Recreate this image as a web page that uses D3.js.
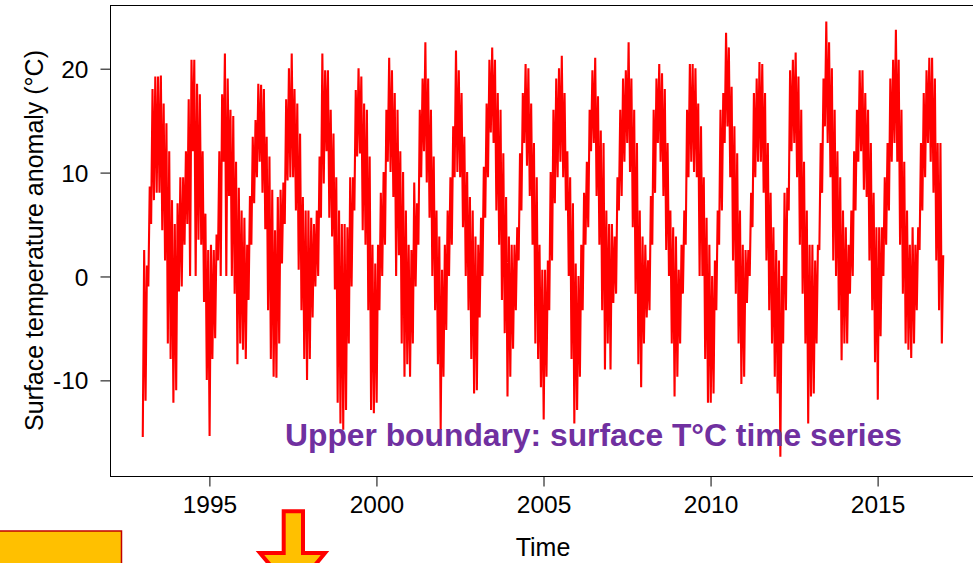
<!DOCTYPE html>
<html>
<head>
<meta charset="utf-8">
<script src="https://cdn.jsdelivr.net/npm/d3@7"></script>
<style>
  html, body { margin: 0; padding: 0; background: #fff; }
  svg { display: block; }
  text { font-family: "Liberation Sans", Arial, sans-serif; }
</style>
</head>
<body>
<svg id="chart" width="973" height="563"></svg>
<script>
// ---- data (monthly high / low of the daily series) ----
const years = [1993, 1994, 1995, 1996, 1997, 1998, 1999, 2000, 2001, 2002, 2003, 2004,
               2005, 2006, 2007, 2008, 2009, 2010, 2011, 2012, 2013, 2014, 2015, 2016];

const monthlyHigh = [
  [2.5, 1, 8.6, 18, 19.2, 19.2, 19.3, 16.6, 14.7, 12, 7.3, 5],
  [7, 9.5, 9.5, 12, 17, 20.8, 20.8, 18.5, 17.5, 12, 6, 2.5],
  [3, 2.5, 4, 12, 17.5, 21.4, 19, 16, 15.4, 11, 8.5, 6.3],
  [5.6, 3, 7.7, 13.4, 15, 18.5, 18.4, 18, 13.4, 11.5, 8.3, 4.4],
  [7.6, 8.3, 9, 17, 20, 21.4, 18, 16.6, 13.7, 7.6, 6.3, 6.3],
  [5.6, 5, 6.3, 11.5, 21.4, 19.8, 19.8, 16, 13.7, 9.5, 6.3, 5],
  [5, 4.7, 9.5, 9.5, 17.9, 20, 19.2, 16.6, 16, 11.5, 3, 1.2],
  [3, 8, 10, 16, 21, 19.8, 17.6, 16, 12, 10, 6.3, 3],
  [2.5, 9, 7, 16, 19, 22.5, 19, 16, 11.5, 6.3, 3.8, 0.6],
  [3, 6.3, 9.5, 14.4, 21.7, 19.8, 17.6, 13.4, 10, 7.6, 6.3, 3.8],
  [3, 5.6, 10.5, 16.6, 20.8, 22, 20.8, 17.6, 16, 11.8, 7.6, 3.8],
  [3, 3, 4.7, 11.8, 17.6, 20.4, 20, 16.6, 12.8, 9.5, 3, 0.6],
  [0.6, 1.5, 10, 16, 19, 20, 21.2, 17.6, 12, 9.5, 7, 1.2],
  [0, 3, 8, 11, 16, 19.8, 21, 17.3, 14, 12.8, 6.3, 5],
  [5, 3.8, 9.5, 16, 19, 19.8, 22.5, 19, 16, 12.8, 6.3, 3.8],
  [3, 1.5, 7.7, 16, 19, 20.4, 19.5, 18, 12.8, 6.3, 4.7, 3.8],
  [0.6, 3, 6.3, 16, 20.4, 20.4, 20, 16.6, 14.4, 9.5, 5.6, 3],
  [0, 1.5, 6.3, 16, 17.6, 23.4, 22, 18.2, 14.4, 11.8, 6.3, 3],
  [2.5, 2.5, 8, 17.6, 19, 20.6, 20.4, 17.6, 12.8, 8, 4.7, 2.5],
  [1.5, 0, 8, 8.5, 19.8, 20.8, 21.5, 19.2, 16, 11, 6.3, 3],
  [3, 1.5, 3, 12.8, 19, 24.5, 22.5, 20, 16, 12, 9.5, 6.3],
  [4.7, 3, 6.3, 12, 16, 19.8, 19.8, 17.6, 16, 12.8, 8, 4.7],
  [4.7, 4.7, 9.5, 12.8, 19, 20.8, 23.7, 20.8, 16, 11, 6.3, 3],
  [4.7, 3, 4.7, 12.8, 17.6, 19.8, 21, 21, 19, 12.8, 12.8, 2]
];

const monthlyLow = [
  [-15.5, -12, -1, 5, 7.3, 8, 8, 4.4, 1.5, -6.5, -8, -12.2],
  [-11, -1.5, -1, 3, 5, 0, 12, 0, 3.5, 3, -2.5, -10],
  [-15.4, -8, -6, 1.5, 0, 11, 0, 7.7, 0, -1.7, -8.5, -6.5],
  [-7.1, -8, -2.3, 3, 7, 9.5, 11, 8, 4.5, -3.3, -8, -9.7],
  [-9.8, -6.5, 1.2, 5, 9.2, 9.5, 9.5, 6.3, 0.6, -3.3, -8, -10],
  [-8, -4, -1, 0, 5.6, 8.9, 12, 5.6, 3.8, -1.3, -12.2, -14.2],
  [-14.8, -12.9, -6.5, -1, 6.3, 11.5, 11.8, 4.4, 3, -3.3, -12.9, -13.2],
  [-12.2, -3.3, 0, 3, 11, 10, 7.6, 0, 2, -6.5, -9.7, -8.5],
  [-9.7, -6.5, -1, 3, 9.5, 12, 9, 5.6, 0, -3.3, -8.5, -14.8],
  [-9.7, -5.2, 0, 3, 9.5, 10, 9.5, 4.7, 0, -3.3, -8, -11.3],
  [-11, -4, 0, 5.6, 9.5, 13.8, 12.8, 6.3, 3, -2.3, -5.5, -11.6],
  [-9.7, -7, -3.3, 1.5, 6.3, 12.8, 10.6, 7.7, 3, -6.5, -8, -10.7],
  [-13.8, -9.7, -3.3, 1.5, 7, 9.5, 11, 9.5, 6.3, 0, -8, -14.2],
  [-12.9, -9.7, -3.3, 3, 4.7, 12, 12.8, 7.7, 3, -3.3, -9, -6.5],
  [-9, -2.6, -1.7, 6.3, 7.7, 11, 12.8, 10, 4.7, -1.7, -8.5, -10.7],
  [-6.5, -4, -3.3, 3, 8, 12.8, 11, 7.7, 2.5, 0, -6.5, -11.6],
  [-9.7, -6.5, -1.7, 3, 9.5, 11, 10, 9.5, 0, 0, -8, -12.2],
  [-12.2, -11.3, -3.3, 3, 6.3, 12.8, 14.4, 9.5, 1.5, -1.7, -6.5, -10.4],
  [-9.7, -2.6, 0, 4.7, 9.5, 11, 11, 8, 1.5, -3.3, -6.5, -9.7],
  [-11.3, -17.4, -6.5, -3.3, 6.3, 12, 12.8, 9.5, 3, -1.7, -6.5, -14.2],
  [-11.6, -11.3, -6.5, 2.5, 8, 14.4, 12.8, 9.5, 1.5, 0, -3.3, -8.1],
  [-6.5, -6.5, -1.7, 0, 6.3, 11, 12, 8.3, 7.6, 1.5, -3.3, -8.3],
  [-11.9, -5.8, 0, 3, 6.3, 11, 12.8, 11, 3, -1.7, -6.5, -7.1],
  [-7.9, -6.5, -3.3, 2.5, 6.3, 9.5, 12.8, 11, 8, 1.5, -3.3, -6.5]
];

const xTicks = [1995, 2000, 2005, 2010, 2015];
const yTicks = [-10, 0, 10, 20];
const xLabel = "Time";
const yLabel = "Surface temperature anomaly (\u00B0C)";
const titleText = "Upper boundary: surface T\u00B0C time series";

// ---- layout ----
const svg = d3.select("#chart");
const plot = { left: 110, right: 976, top: 5, bottom: 476 };

const x = d3.scaleLinear().domain([1992.04, 2017.96]).range([plot.left, plot.right]);
const y = d3.scaleLinear().domain([-19.25, 26.08]).range([plot.bottom, plot.top]);

// build zigzag series from monthly extremes
const series = [];
years.forEach((yr, i) => {
  for (let m = 0; m < 12; m++) {
    series.push({ t: yr + (m + 0.25) / 12, v: monthlyLow[i][m] });
    series.push({ t: yr + (m + 0.75) / 12, v: monthlyHigh[i][m] });
  }
});

svg.append("path")
  .datum(series)
  .attr("fill", "none")
  .attr("stroke", "#ff0000")
  .attr("stroke-width", 2.1)
  .attr("stroke-linejoin", "bevel")
  .attr("d", d3.line().x(d => x(d.t)).y(d => y(d.v)));

// box
svg.append("rect")
  .attr("x", plot.left + 0.5).attr("y", plot.top + 0.5)
  .attr("width", plot.right - plot.left).attr("height", plot.bottom - plot.top)
  .attr("fill", "none").attr("stroke", "#000").attr("stroke-width", 1);

const fmt = d => String(d);

// x axis
const gx = svg.append("g")
  .attr("transform", `translate(0.5,${plot.bottom + 0.5})`)
  .call(d3.axisBottom(x).tickValues(xTicks).tickSize(10).tickFormat(fmt));
gx.select(".domain").remove();
gx.selectAll(".tick line").attr("stroke", "#000");
gx.selectAll(".tick text")
  .attr("y", 36.5).attr("dy", 0)
  .attr("fill", "#000")
  .style("font-size", "24.5px")
  .style("font-family", "'Liberation Sans', Arial, sans-serif");

// y axis
const gy = svg.append("g")
  .attr("transform", `translate(${plot.left + 0.5},0.5)`)
  .call(d3.axisLeft(y).tickValues(yTicks).tickSize(10).tickFormat(fmt));
gy.select(".domain").remove();
gy.selectAll(".tick line").attr("stroke", "#000");
gy.selectAll(".tick text")
  .attr("x", -22).attr("dy", "0.35em")
  .attr("fill", "#000")
  .style("font-size", "24.5px")
  .style("font-family", "'Liberation Sans', Arial, sans-serif");

// axis titles
svg.append("text")
  .attr("x", (plot.left + plot.right) / 2).attr("y", 556)
  .attr("text-anchor", "middle")
  .style("font-size", "25px")
  .text(xLabel);

svg.append("text")
  .attr("transform", `translate(43,${(plot.top + plot.bottom) / 2}) rotate(-90)`)
  .attr("text-anchor", "middle")
  .style("font-size", "25px")
  .text(yLabel);

// overlay title
svg.append("text")
  .attr("x", 285).attr("y", 446)
  .attr("fill", "#7030A0")
  .style("font-size", "31.8px")
  .style("font-weight", "bold")
  .text(titleText);

// decorations at the bottom (slide shapes)
svg.append("rect")
  .attr("x", -3).attr("y", 531)
  .attr("width", 124.5).attr("height", 60)
  .attr("fill", "#FFC000").attr("stroke", "#C00000").attr("stroke-width", 1.5);

const arrowPts = [[283.7, 511.3], [303, 511.3], [303, 553], [325, 553], [292.8, 592],
                  [260, 553], [283.7, 553]];
svg.append("polygon")
  .attr("points", arrowPts.map(p => p.join(",")).join(" "))
  .attr("fill", "#FFC000").attr("stroke", "#FF0000").attr("stroke-width", 4)
  .attr("stroke-linejoin", "miter");
</script>
</body>
</html>
